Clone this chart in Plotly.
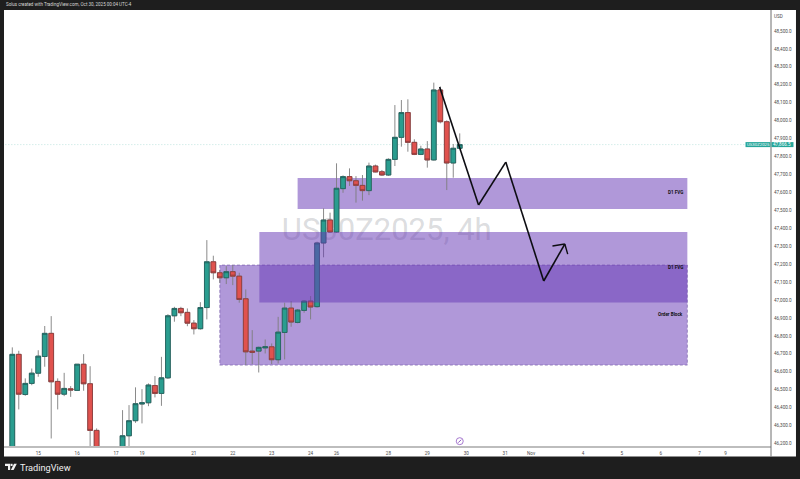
import plotly.graph_objects as go

# ---- data: 4h candles ----
opens = [46150,46697,46473,46535,46592,46685,46814,46546,46475,46505,46496,46642,46533,46273,46110,46090,46080,46100,46243,46327,46420,
         46427,46523,46479,46566,46912,46953,46931,46871,46840,46958,47213,47152,47124,47158,47133,47007,46715,46715,46733,46739,46667,
         46819,46955,46875,46942,46994,46963,47318,47446,47379,47621,47688,47665,47639,47610,47747,47715,47697,47784,47907,48045,47879,
         47812,47842,47781,48171,47994,47764,47846]
highs = [46736,46717,46563,46618,46720,46855,46910,46563,46594,46520,46642,46698,46631,46284,46130,46110,46120,46386,46414,46513,46503,
         46535,46576,46683,46921,46962,46962,46953,46888,46988,47334,47247,47167,47189,47195,47152,47059,46832,46740,46780,46758,46906,
         46985,46994,46950,47000,47022,47325,47511,47487,47762,47695,47734,47691,47697,47766,47755,47725,47790,48087,48115,48119,47896,
         47860,47886,48212,48190,48002,47870,47929]
lows = [46100,46390,46466,46525,46572,46628,46228,46390,46464,46460,46496,46494,46150,46050,46060,46050,46060,46080,46185,46315,46312,
        46408,46457,46410,46560,46879,46910,46854,46808,46835,46892,47115,47095,47089,47083,46985,46637,46643,46596,46702,46643,46646,
        46669,46851,46870,46929,46892,46958,47238,47375,47375,47598,47636,47543,47554,47585,47712,47692,47692,47747,47855,47827,47808,
        47808,47738,47778,47985,47613,47682,47842]
closes = [46697,46475,46535,46592,46687,46814,46544,46475,46507,46498,46642,46533,46273,46100,46090,46080,46100,46243,46327,46422,46427,
          46526,46479,46566,46912,46953,46929,46871,46840,46958,47213,47152,47124,47158,47133,47003,46711,46709,46736,46739,46667,46821,
          46955,46877,46944,46994,46961,47318,47446,47379,47623,47688,47665,47639,47610,47747,47714,47697,47784,47907,48045,47879,47812,
          47842,47781,48171,47994,47764,47846,47866.5]
candle_index = list(range(len(opens)))

x_tick_index = [4,10,16,20,28,34,40,46,50,58,64,70,76,80,88,94,100,106,110]
x_tick_labels = ["15","16","17","19","21","22","23","24","26","28","29","30","31","Nov","4","5","6","7","9"]
y_tick_values = list(range(46200, 48600, 100))
y_tick_labels = [f"{v:,.1f}" for v in y_tick_values]

# zones: start candle, end candle, top price, bottom price
fvg_upper = [44.0, 104.1, 47680, 47507]
fvg_lower = [38.1, 104.1, 47379, 46986]
order_block = [32.0, 104.1, 47195, 46637]

path_x = [65.9, 71.9, 76.1, 81.95, 85.2]
path_y = [48188, 47530, 47769, 47106, 47312]
head_x = [83.3, 85.2, 85.65]
head_y = [47301, 47312, 47256]
last_price = 47866.5
event_x = [69]
event_y = [46213]

# ---- style / layout ----
W, H = 800, 479
L, R, T, B = 4, 771.5, 10, 446
def px(x): return (x - L) / (R - L)
def py(y): return (B - y) / (B - T)

GREEN, RED = "#2a9d8f", "#e0524e"
GREEN_EDGE, RED_EDGE = "#1f5f5c", "#8a3a3a"
ZONE = "rgba(103,58,183,0.52)"
LABEL = "#4a4a4a"
FONT = "Roboto, Arial, sans-serif"

fig = go.Figure()
# wicks
fig.add_trace(go.Candlestick(
    x=candle_index, open=opens, high=highs, low=lows, close=closes, whiskerwidth=0,
    increasing=dict(line=dict(color="#7d7d7d", width=0.9), fillcolor=GREEN),
    decreasing=dict(line=dict(color="#7d7d7d", width=0.9), fillcolor=RED),
    showlegend=False, hoverinfo="skip"))
# bodies
fig.add_trace(go.Candlestick(
    x=candle_index, open=opens, close=closes,
    high=[max(a, b) for a, b in zip(opens, closes)],
    low=[min(a, b) for a, b in zip(opens, closes)], whiskerwidth=0,
    increasing=dict(line=dict(color=GREEN_EDGE, width=0.8), fillcolor=GREEN),
    decreasing=dict(line=dict(color=RED_EDGE, width=0.8), fillcolor=RED),
    showlegend=False, hoverinfo="skip"))
fig.add_trace(go.Scatter(x=event_x, y=event_y, mode="markers", showlegend=False, hoverinfo="skip",
    marker=dict(symbol="circle-open", size=7, color="#a77ad0", line=dict(width=1))))
fig.add_trace(go.Scatter(x=event_x, y=event_y, mode="markers", showlegend=False, hoverinfo="skip",
    marker=dict(symbol="line-ne", size=3, color="#8e5bc0", line=dict(width=1, color="#8e5bc0"))))

def zone(z, layer, line=None):
    return dict(type="rect", xref="x", yref="y", x0=z[0], x1=z[1], y0=z[3], y1=z[2],
                fillcolor=ZONE, layer=layer, line=line or dict(width=0))

shapes = [
    # white page card
    dict(type="rect", xref="paper", yref="paper", x0=0, x1=px(796.5), y0=py(456.5), y1=1,
         fillcolor="white", line=dict(width=0), layer="below"),
    # right-axis rule runs down through the date strip
    dict(type="line", xref="paper", yref="paper", x0=1, x1=1, y0=py(456.5), y1=1,
         line=dict(color="#6e6e6e", width=1), layer="above"),
    # watermark
    dict(type="rect", xref="paper", yref="paper", x0=px(283), x1=px(491), y0=py(241), y1=py(214),
         line=dict(width=0), fillcolor="rgba(0,0,0,0)", layer="below",
         label=dict(text="US30Z2025, 4h", font=dict(size=31, color="rgba(120,123,134,0.27)", family=FONT),
                    textposition="middle center")),
    zone(fvg_upper, "below"),
    zone(order_block, "below", dict(color="rgba(92,62,150,0.75)", width=0.7, dash="3px,2px")),
    dict(type="line", xref="x", yref="y", x0=-2, x1=118, y0=last_price, y1=last_price,
         line=dict(color="#a5d9d2", width=0.7, dash="1px,2px"), layer="below"),
    zone(fvg_lower, "above"),
]
for i in range(len(path_x) - 1):
    shapes.append(dict(type="line", xref="x", yref="y", x0=path_x[i], x1=path_x[i + 1], y0=path_y[i], y1=path_y[i + 1],
                       line=dict(color="#0d0d12", width=1.6), layer="above"))
for i in range(len(head_x) - 1):
    shapes.append(dict(type="line", xref="x", yref="y", x0=head_x[i], x1=head_x[i + 1], y0=head_y[i], y1=head_y[i + 1],
                       line=dict(color="#0d0d12", width=1.4), layer="above"))
# price-scale tags
shapes.append(dict(type="rect", xref="paper", yref="y", x0=px(746), x1=px(771), y0=last_price - 14, y1=last_price + 14,
                   fillcolor="#26a69a", line=dict(width=0), layer="above"))
shapes.append(dict(type="rect", xref="paper", yref="y", x0=px(772), x1=px(794), y0=last_price - 14, y1=last_price + 14,
                   fillcolor="#26a69a", line=dict(width=0), layer="above"))
# TradingView logo mark
def poly(pts):
    return "M" + " L".join(f"{px(x):.5f},{py(y):.5f}" for x, y in pts) + " Z"
for pts in ([(5, 463.8), (10.2, 463.8), (10.2, 470), (8, 470), (8, 466), (5, 466)],
            [(14, 463.8), (16.8, 463.8), (13.6, 470), (10.9, 470)],
            [(10.6, 463.8), (12.6, 463.8), (12.6, 466), (10.6, 466)]):
    shapes.append(dict(type="path", xref="paper", yref="paper", path=poly(pts), fillcolor="#f2f2f2",
                       line=dict(width=0), layer="above"))

def note(text, x, y, size=4.6, color="#222222", anchor="right", xref="x", yref="y", **kw):
    return dict(text=text, x=x, y=y, xref=xref, yref=yref, showarrow=False, xanchor=anchor, yanchor="middle",
                font=dict(size=size, color=color, family=FONT), **kw)

annotations = [
    note("<b>D1 FVG</b>", 103.7, 47602, color="#111111"),
    note("<b>D1 FVG</b>", 103.7, 47184, color="#111111"),
    note("<b>Order Block</b>", 103.7, 46922, color="#111111"),
    note("US30Z2025", px(758.5), last_price, size=4.3, color="white", anchor="center", xref="paper"),
    note("47,866.5", px(783), last_price, size=4.6, color="white", anchor="center", xref="paper"),
    note("USD", px(779.5), py(16), size=4.6, color=LABEL, anchor="center", xref="paper", yref="paper"),
    note("Solus created with TradingView.com, Oct 30, 2025 00:04 UTC-4", px(3.5), py(4.8), size=4.5,
         color="#d8d8d8", anchor="left", xref="paper", yref="paper"),
    note("TradingView", px(18), py(467.3), size=9.2, color="#efefef", anchor="left", xref="paper", yref="paper"),
]

fig.update_layout(
    width=W, height=H, autosize=False,
    margin=dict(l=L, r=W - R, t=T, b=H - B, pad=0),
    paper_bgcolor="#1e1e1e", plot_bgcolor="white",
    showlegend=False, shapes=shapes, annotations=annotations,
    boxgap=0.27, boxgroupgap=0,
    font=dict(family=FONT, size=5, color=LABEL),
    xaxis=dict(range=[-1.28, 117.0], rangeslider=dict(visible=False), tickmode="array",
               tickvals=x_tick_index, ticktext=x_tick_labels, showgrid=False, zeroline=False,
               showline=True, linecolor="#bdbdbd", linewidth=1.6, ticks="", ticklen=0,
               ticklabelstandoff=2, tickfont=dict(size=4.6, color=LABEL, family=FONT), tickangle=0),
    yaxis=dict(range=[46186, 48617], side="right", tickmode="array", tickvals=y_tick_values,
               ticktext=y_tick_labels, showgrid=False, zeroline=False, showline=False, ticks="",
               ticklabelstandoff=2, tickfont=dict(size=4.6, color=LABEL, family=FONT)),
)
fig.write_html("out.html", config=dict(displayModeBar=False),
               post_script="document.body.style.margin='0';document.body.style.background='#1e1e1e';")
